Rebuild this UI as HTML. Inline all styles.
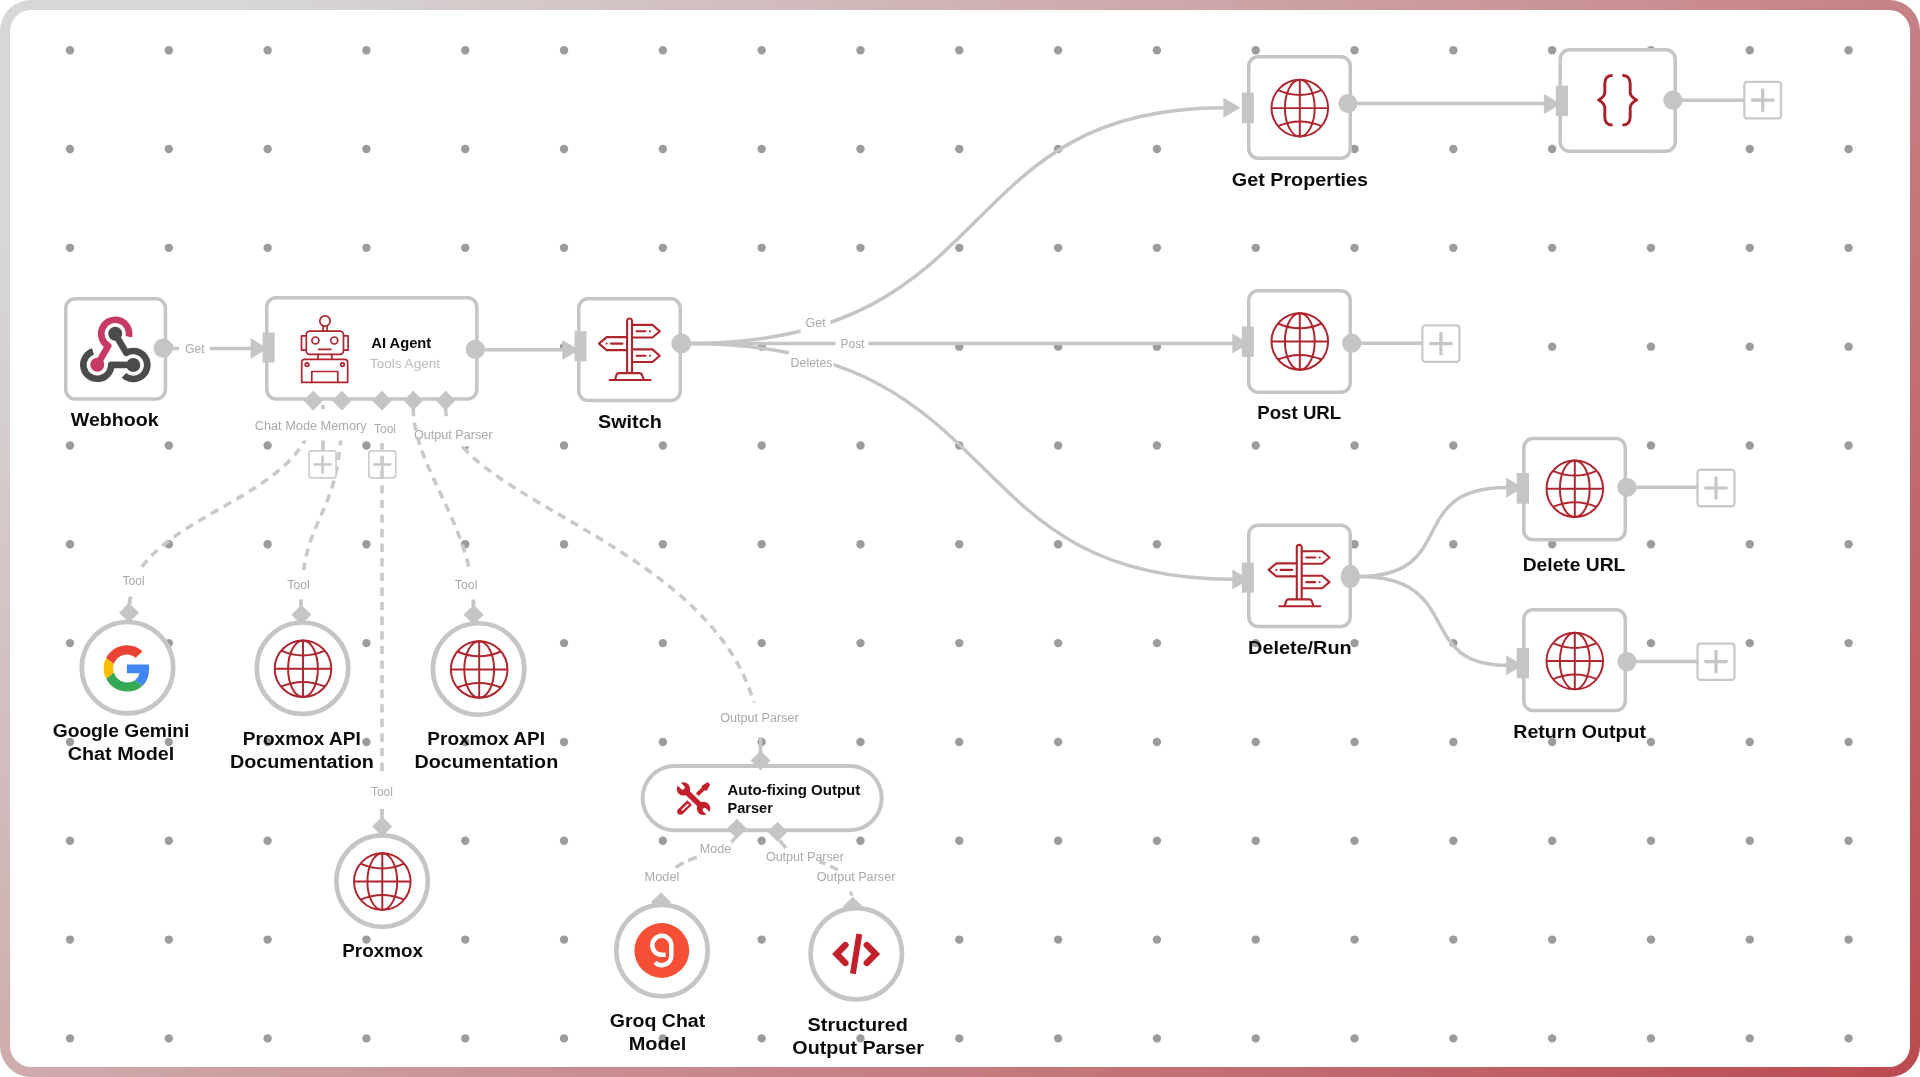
<!DOCTYPE html>
<html lang="en">
<head>
<meta charset="utf-8">
<title>Workflow</title>
<style>
html,body{margin:0;padding:0;background:#fff;}
body{width:1920px;height:1077px;overflow:hidden;position:relative;font-family:"Liberation Sans",sans-serif;}
.frame{position:absolute;left:0;top:0;width:1920px;height:1077px;box-sizing:border-box;padding:10px;border-radius:31px;
 background:linear-gradient(135deg,#d7d7d7 0%,#d7d7d7 8%,#bb4a50 100%);}
.canvas{width:100%;height:100%;border-radius:21px;background:#fff;}
</style>
</head>
<body>
<div class="frame"><div class="canvas"></div></div>
<svg width="1920" height="1077" viewBox="0 0 1920 1077" style="position:absolute;left:0;top:0;will-change:transform" font-family="'Liberation Sans', sans-serif">
<g fill="#9c9c9c">
<circle cx="70" cy="50.2" r="4.2"/>
<circle cx="168.81" cy="50.2" r="4.2"/>
<circle cx="267.62" cy="50.2" r="4.2"/>
<circle cx="366.43" cy="50.2" r="4.2"/>
<circle cx="465.24" cy="50.2" r="4.2"/>
<circle cx="564.05" cy="50.2" r="4.2"/>
<circle cx="662.86" cy="50.2" r="4.2"/>
<circle cx="761.67" cy="50.2" r="4.2"/>
<circle cx="860.48" cy="50.2" r="4.2"/>
<circle cx="959.29" cy="50.2" r="4.2"/>
<circle cx="1058.1" cy="50.2" r="4.2"/>
<circle cx="1156.91" cy="50.2" r="4.2"/>
<circle cx="1255.72" cy="50.2" r="4.2"/>
<circle cx="1354.53" cy="50.2" r="4.2"/>
<circle cx="1453.34" cy="50.2" r="4.2"/>
<circle cx="1552.15" cy="50.2" r="4.2"/>
<circle cx="1650.96" cy="50.2" r="4.2"/>
<circle cx="1749.77" cy="50.2" r="4.2"/>
<circle cx="1848.58" cy="50.2" r="4.2"/>
<circle cx="70" cy="149.02" r="4.2"/>
<circle cx="168.81" cy="149.02" r="4.2"/>
<circle cx="267.62" cy="149.02" r="4.2"/>
<circle cx="366.43" cy="149.02" r="4.2"/>
<circle cx="465.24" cy="149.02" r="4.2"/>
<circle cx="564.05" cy="149.02" r="4.2"/>
<circle cx="662.86" cy="149.02" r="4.2"/>
<circle cx="761.67" cy="149.02" r="4.2"/>
<circle cx="860.48" cy="149.02" r="4.2"/>
<circle cx="959.29" cy="149.02" r="4.2"/>
<circle cx="1058.1" cy="149.02" r="4.2"/>
<circle cx="1156.91" cy="149.02" r="4.2"/>
<circle cx="1255.72" cy="149.02" r="4.2"/>
<circle cx="1354.53" cy="149.02" r="4.2"/>
<circle cx="1453.34" cy="149.02" r="4.2"/>
<circle cx="1552.15" cy="149.02" r="4.2"/>
<circle cx="1650.96" cy="149.02" r="4.2"/>
<circle cx="1749.77" cy="149.02" r="4.2"/>
<circle cx="1848.58" cy="149.02" r="4.2"/>
<circle cx="70" cy="247.84" r="4.2"/>
<circle cx="168.81" cy="247.84" r="4.2"/>
<circle cx="267.62" cy="247.84" r="4.2"/>
<circle cx="366.43" cy="247.84" r="4.2"/>
<circle cx="465.24" cy="247.84" r="4.2"/>
<circle cx="564.05" cy="247.84" r="4.2"/>
<circle cx="662.86" cy="247.84" r="4.2"/>
<circle cx="761.67" cy="247.84" r="4.2"/>
<circle cx="860.48" cy="247.84" r="4.2"/>
<circle cx="959.29" cy="247.84" r="4.2"/>
<circle cx="1058.1" cy="247.84" r="4.2"/>
<circle cx="1156.91" cy="247.84" r="4.2"/>
<circle cx="1255.72" cy="247.84" r="4.2"/>
<circle cx="1354.53" cy="247.84" r="4.2"/>
<circle cx="1453.34" cy="247.84" r="4.2"/>
<circle cx="1552.15" cy="247.84" r="4.2"/>
<circle cx="1650.96" cy="247.84" r="4.2"/>
<circle cx="1749.77" cy="247.84" r="4.2"/>
<circle cx="1848.58" cy="247.84" r="4.2"/>
<circle cx="70" cy="346.66" r="4.2"/>
<circle cx="168.81" cy="346.66" r="4.2"/>
<circle cx="267.62" cy="346.66" r="4.2"/>
<circle cx="366.43" cy="346.66" r="4.2"/>
<circle cx="465.24" cy="346.66" r="4.2"/>
<circle cx="564.05" cy="346.66" r="4.2"/>
<circle cx="662.86" cy="346.66" r="4.2"/>
<circle cx="761.67" cy="346.66" r="4.2"/>
<circle cx="860.48" cy="346.66" r="4.2"/>
<circle cx="959.29" cy="346.66" r="4.2"/>
<circle cx="1058.1" cy="346.66" r="4.2"/>
<circle cx="1156.91" cy="346.66" r="4.2"/>
<circle cx="1255.72" cy="346.66" r="4.2"/>
<circle cx="1354.53" cy="346.66" r="4.2"/>
<circle cx="1453.34" cy="346.66" r="4.2"/>
<circle cx="1552.15" cy="346.66" r="4.2"/>
<circle cx="1650.96" cy="346.66" r="4.2"/>
<circle cx="1749.77" cy="346.66" r="4.2"/>
<circle cx="1848.58" cy="346.66" r="4.2"/>
<circle cx="70" cy="445.48" r="4.2"/>
<circle cx="168.81" cy="445.48" r="4.2"/>
<circle cx="267.62" cy="445.48" r="4.2"/>
<circle cx="366.43" cy="445.48" r="4.2"/>
<circle cx="465.24" cy="445.48" r="4.2"/>
<circle cx="564.05" cy="445.48" r="4.2"/>
<circle cx="662.86" cy="445.48" r="4.2"/>
<circle cx="761.67" cy="445.48" r="4.2"/>
<circle cx="860.48" cy="445.48" r="4.2"/>
<circle cx="959.29" cy="445.48" r="4.2"/>
<circle cx="1058.1" cy="445.48" r="4.2"/>
<circle cx="1156.91" cy="445.48" r="4.2"/>
<circle cx="1255.72" cy="445.48" r="4.2"/>
<circle cx="1354.53" cy="445.48" r="4.2"/>
<circle cx="1453.34" cy="445.48" r="4.2"/>
<circle cx="1552.15" cy="445.48" r="4.2"/>
<circle cx="1650.96" cy="445.48" r="4.2"/>
<circle cx="1749.77" cy="445.48" r="4.2"/>
<circle cx="1848.58" cy="445.48" r="4.2"/>
<circle cx="70" cy="544.3" r="4.2"/>
<circle cx="168.81" cy="544.3" r="4.2"/>
<circle cx="267.62" cy="544.3" r="4.2"/>
<circle cx="366.43" cy="544.3" r="4.2"/>
<circle cx="465.24" cy="544.3" r="4.2"/>
<circle cx="564.05" cy="544.3" r="4.2"/>
<circle cx="662.86" cy="544.3" r="4.2"/>
<circle cx="761.67" cy="544.3" r="4.2"/>
<circle cx="860.48" cy="544.3" r="4.2"/>
<circle cx="959.29" cy="544.3" r="4.2"/>
<circle cx="1058.1" cy="544.3" r="4.2"/>
<circle cx="1156.91" cy="544.3" r="4.2"/>
<circle cx="1255.72" cy="544.3" r="4.2"/>
<circle cx="1354.53" cy="544.3" r="4.2"/>
<circle cx="1453.34" cy="544.3" r="4.2"/>
<circle cx="1552.15" cy="544.3" r="4.2"/>
<circle cx="1650.96" cy="544.3" r="4.2"/>
<circle cx="1749.77" cy="544.3" r="4.2"/>
<circle cx="1848.58" cy="544.3" r="4.2"/>
<circle cx="70" cy="643.12" r="4.2"/>
<circle cx="168.81" cy="643.12" r="4.2"/>
<circle cx="267.62" cy="643.12" r="4.2"/>
<circle cx="366.43" cy="643.12" r="4.2"/>
<circle cx="465.24" cy="643.12" r="4.2"/>
<circle cx="564.05" cy="643.12" r="4.2"/>
<circle cx="662.86" cy="643.12" r="4.2"/>
<circle cx="761.67" cy="643.12" r="4.2"/>
<circle cx="860.48" cy="643.12" r="4.2"/>
<circle cx="959.29" cy="643.12" r="4.2"/>
<circle cx="1058.1" cy="643.12" r="4.2"/>
<circle cx="1156.91" cy="643.12" r="4.2"/>
<circle cx="1255.72" cy="643.12" r="4.2"/>
<circle cx="1354.53" cy="643.12" r="4.2"/>
<circle cx="1453.34" cy="643.12" r="4.2"/>
<circle cx="1552.15" cy="643.12" r="4.2"/>
<circle cx="1650.96" cy="643.12" r="4.2"/>
<circle cx="1749.77" cy="643.12" r="4.2"/>
<circle cx="1848.58" cy="643.12" r="4.2"/>
<circle cx="70" cy="741.94" r="4.2"/>
<circle cx="168.81" cy="741.94" r="4.2"/>
<circle cx="267.62" cy="741.94" r="4.2"/>
<circle cx="366.43" cy="741.94" r="4.2"/>
<circle cx="465.24" cy="741.94" r="4.2"/>
<circle cx="564.05" cy="741.94" r="4.2"/>
<circle cx="662.86" cy="741.94" r="4.2"/>
<circle cx="761.67" cy="741.94" r="4.2"/>
<circle cx="860.48" cy="741.94" r="4.2"/>
<circle cx="959.29" cy="741.94" r="4.2"/>
<circle cx="1058.1" cy="741.94" r="4.2"/>
<circle cx="1156.91" cy="741.94" r="4.2"/>
<circle cx="1255.72" cy="741.94" r="4.2"/>
<circle cx="1354.53" cy="741.94" r="4.2"/>
<circle cx="1453.34" cy="741.94" r="4.2"/>
<circle cx="1552.15" cy="741.94" r="4.2"/>
<circle cx="1650.96" cy="741.94" r="4.2"/>
<circle cx="1749.77" cy="741.94" r="4.2"/>
<circle cx="1848.58" cy="741.94" r="4.2"/>
<circle cx="70" cy="840.76" r="4.2"/>
<circle cx="168.81" cy="840.76" r="4.2"/>
<circle cx="267.62" cy="840.76" r="4.2"/>
<circle cx="366.43" cy="840.76" r="4.2"/>
<circle cx="465.24" cy="840.76" r="4.2"/>
<circle cx="564.05" cy="840.76" r="4.2"/>
<circle cx="662.86" cy="840.76" r="4.2"/>
<circle cx="761.67" cy="840.76" r="4.2"/>
<circle cx="860.48" cy="840.76" r="4.2"/>
<circle cx="959.29" cy="840.76" r="4.2"/>
<circle cx="1058.1" cy="840.76" r="4.2"/>
<circle cx="1156.91" cy="840.76" r="4.2"/>
<circle cx="1255.72" cy="840.76" r="4.2"/>
<circle cx="1354.53" cy="840.76" r="4.2"/>
<circle cx="1453.34" cy="840.76" r="4.2"/>
<circle cx="1552.15" cy="840.76" r="4.2"/>
<circle cx="1650.96" cy="840.76" r="4.2"/>
<circle cx="1749.77" cy="840.76" r="4.2"/>
<circle cx="1848.58" cy="840.76" r="4.2"/>
<circle cx="70" cy="939.58" r="4.2"/>
<circle cx="168.81" cy="939.58" r="4.2"/>
<circle cx="267.62" cy="939.58" r="4.2"/>
<circle cx="366.43" cy="939.58" r="4.2"/>
<circle cx="465.24" cy="939.58" r="4.2"/>
<circle cx="564.05" cy="939.58" r="4.2"/>
<circle cx="662.86" cy="939.58" r="4.2"/>
<circle cx="761.67" cy="939.58" r="4.2"/>
<circle cx="860.48" cy="939.58" r="4.2"/>
<circle cx="959.29" cy="939.58" r="4.2"/>
<circle cx="1058.1" cy="939.58" r="4.2"/>
<circle cx="1156.91" cy="939.58" r="4.2"/>
<circle cx="1255.72" cy="939.58" r="4.2"/>
<circle cx="1354.53" cy="939.58" r="4.2"/>
<circle cx="1453.34" cy="939.58" r="4.2"/>
<circle cx="1552.15" cy="939.58" r="4.2"/>
<circle cx="1650.96" cy="939.58" r="4.2"/>
<circle cx="1749.77" cy="939.58" r="4.2"/>
<circle cx="1848.58" cy="939.58" r="4.2"/>
<circle cx="70" cy="1038.4" r="4.2"/>
<circle cx="168.81" cy="1038.4" r="4.2"/>
<circle cx="267.62" cy="1038.4" r="4.2"/>
<circle cx="366.43" cy="1038.4" r="4.2"/>
<circle cx="465.24" cy="1038.4" r="4.2"/>
<circle cx="564.05" cy="1038.4" r="4.2"/>
<circle cx="662.86" cy="1038.4" r="4.2"/>
<circle cx="761.67" cy="1038.4" r="4.2"/>
<circle cx="860.48" cy="1038.4" r="4.2"/>
<circle cx="959.29" cy="1038.4" r="4.2"/>
<circle cx="1058.1" cy="1038.4" r="4.2"/>
<circle cx="1156.91" cy="1038.4" r="4.2"/>
<circle cx="1255.72" cy="1038.4" r="4.2"/>
<circle cx="1354.53" cy="1038.4" r="4.2"/>
<circle cx="1453.34" cy="1038.4" r="4.2"/>
<circle cx="1552.15" cy="1038.4" r="4.2"/>
<circle cx="1650.96" cy="1038.4" r="4.2"/>
<circle cx="1749.77" cy="1038.4" r="4.2"/>
<circle cx="1848.58" cy="1038.4" r="4.2"/>
</g>
<path d="M313.2 408 C313.2 501 129.5 516 129.5 604" stroke="#c9c9c9" stroke-width="3.6" fill="none" stroke-dasharray="8.3 6.3"/>
<path d="M341.9 408 C341.9 524 301.3 509 301.3 606" stroke="#c9c9c9" stroke-width="3.6" fill="none" stroke-dasharray="8.3 6.3"/>
<path d="M445.6 408 C445.6 506 760.5 549 760.5 752" stroke="#c9c9c9" stroke-width="3.6" fill="none" stroke-dasharray="8.3 6.3"/>
<path d="M323 405 L323 450.5" stroke="#c5c5c5" stroke-width="3.5" fill="none" stroke-linecap="butt"/>
<path d="M172 348.4 L251 348.4" stroke="#c5c5c5" stroke-width="3.5" fill="none" stroke-linecap="butt"/>
<path d="M250.6 338.1 L267.6 348.4 L250.6 358.7 Z" fill="#c5c5c5"/>
<path d="M484 349.7 L563 349.7" stroke="#c5c5c5" stroke-width="3.5" fill="none" stroke-linecap="butt"/>
<path d="M562.3 339.9 L579.3 349.9 L562.3 359.9 Z" fill="#c5c5c5"/>
<path d="M688 343.5 C1008 343.5 945 107.8 1224 107.8" stroke="#c5c5c5" stroke-width="3.5" fill="none"/>
<path d="M1223.4 97.7 L1240.4 107.7 L1223.4 117.7 Z" fill="#c5c5c5"/>
<path d="M688 343.5 L1233 343.5" stroke="#c5c5c5" stroke-width="3.5" fill="none" stroke-linecap="butt"/>
<path d="M1232.3 333.5 L1249.3 343.5 L1232.3 353.5 Z" fill="#c5c5c5"/>
<path d="M688 343.5 C1016 343.5 948 579.3 1233 579.3" stroke="#c5c5c5" stroke-width="3.5" fill="none"/>
<path d="M1232.3 569.4 L1249.3 579.4 L1232.3 589.4 Z" fill="#c5c5c5"/>
<path d="M1356 103.6 L1545 103.6" stroke="#c5c5c5" stroke-width="3.5" fill="none" stroke-linecap="butt"/>
<path d="M1543.9 93.9 L1560.9 103.9 L1543.9 113.9 Z" fill="#c5c5c5"/>
<path d="M1680 100.2 L1745 100.2" stroke="#c5c5c5" stroke-width="3.5" fill="none" stroke-linecap="butt"/>
<path d="M1360 343.2 L1423 343.2" stroke="#c5c5c5" stroke-width="3.5" fill="none" stroke-linecap="butt"/>
<path d="M1358 576.6 C1461 576.6 1403 487.6 1507 487.6" stroke="#c5c5c5" stroke-width="3.5" fill="none"/>
<path d="M1506.2 477.8 L1523.2 487.8 L1506.2 497.8 Z" fill="#c5c5c5"/>
<path d="M1358 576.6 C1466 576.6 1413 665.3 1507 665.3" stroke="#c5c5c5" stroke-width="3.5" fill="none"/>
<path d="M1506.2 655.2 L1523.2 665.2 L1506.2 675.2 Z" fill="#c5c5c5"/>
<path d="M1635 487.3 L1698 487.3" stroke="#c5c5c5" stroke-width="3.5" fill="none" stroke-linecap="butt"/>
<path d="M1635 661.6 L1698 661.6" stroke="#c5c5c5" stroke-width="3.5" fill="none" stroke-linecap="butt"/>
<path d="M735.6 837.3 L730.4 843.4" stroke="#c9c9c9" stroke-width="3.6" fill="none" stroke-linecap="butt"/>
<path d="M696.8 857.2 L688.1 860.5" stroke="#c9c9c9" stroke-width="3.6" fill="none" stroke-linecap="butt"/>
<path d="M683.5 862.6 L675.5 867.6" stroke="#c9c9c9" stroke-width="3.6" fill="none" stroke-linecap="butt"/>
<path d="M779.4 840.3 L786.1 848.1" stroke="#c9c9c9" stroke-width="3.6" fill="none" stroke-linecap="butt"/>
<path d="M830.2 866 L838.1 870.1" stroke="#c9c9c9" stroke-width="3.6" fill="none" stroke-linecap="butt"/>
<path d="M849.8 891.8 L852.5 895.6" stroke="#c9c9c9" stroke-width="3.2" fill="none" stroke-linecap="butt"/>
<rect x="179" y="340" width="31" height="18" fill="#fff"/>
<text x="185" y="353.4" font-size="12.5" fill="#a9a9a9" textLength="19.7" lengthAdjust="spacingAndGlyphs">Get</text>
<rect x="252" y="409" width="117" height="31.5" fill="#fff"/>
<text x="254.7" y="430.3" font-size="12.5" fill="#a9a9a9" textLength="112" lengthAdjust="spacingAndGlyphs">Chat Mode Memory</text>
<rect x="430" y="421" width="64" height="25.5" fill="#fff"/>
<text x="414" y="438.7" font-size="12.5" fill="#a9a9a9" textLength="78.5" lengthAdjust="spacingAndGlyphs">Output Parser</text>
<rect x="800.5" y="314" width="30" height="20" fill="#fff"/>
<text x="805.6" y="327.25" font-size="12.5" fill="#a9a9a9" textLength="20" lengthAdjust="spacingAndGlyphs">Get</text>
<rect x="835.5" y="335" width="33" height="18" fill="#fff"/>
<text x="840.6" y="347.9" font-size="12.5" fill="#a9a9a9" textLength="23.8" lengthAdjust="spacingAndGlyphs">Post</text>
<rect x="789" y="351" width="44.5" height="21" fill="#fff"/>
<text x="790.6" y="366.5" font-size="12.5" fill="#a9a9a9" textLength="41.9" lengthAdjust="spacingAndGlyphs">Deletes</text>
<rect x="309.05" y="450.85" width="27.1" height="27.1" rx="2.6" fill="#fff" stroke="#cdcdcd" stroke-width="1.7"/>
<path d="M313.6 464.4 H331.6 M322.6 455.4 V473.4" stroke="#c6c6c6" stroke-width="2.5" stroke-linecap="butt" fill="none"/>
<path d="M413.3 408 C413.3 468 473.6 527 473.6 606" stroke="#c9c9c9" stroke-width="3.6" fill="none" stroke-dasharray="8.3 6.3"/>
<rect x="368.85" y="450.85" width="26.9" height="27.1" rx="2.6" fill="#fff" stroke="#cdcdcd" stroke-width="1.7"/>
<path d="M373.3 464.4 H391.3 M382.3 455.4 V473.4" stroke="#c6c6c6" stroke-width="2.5" stroke-linecap="butt" fill="none"/>
<path d="M382 408 L382 818" stroke="#c9c9c9" stroke-width="3.6" fill="none" stroke-linecap="butt" stroke-dasharray="8.3 6.3" stroke-dashoffset="-4.2"/>
<rect x="371.5" y="412" width="27" height="31" fill="#fff"/>
<text x="374" y="432.5" font-size="12.5" fill="#a9a9a9" textLength="22" lengthAdjust="spacingAndGlyphs">Tool</text>
<rect x="119" y="569.5" width="30" height="27" fill="#fff"/>
<text x="122.5" y="585.3" font-size="12.5" fill="#a9a9a9" textLength="22.2" lengthAdjust="spacingAndGlyphs">Tool</text>
<path d="M130.6 596.5 L129.3 604" stroke="#c5c5c5" stroke-width="3.5" fill="none" stroke-linecap="butt"/>
<rect x="284" y="570" width="29" height="29.5" fill="#fff"/>
<text x="287.3" y="589.2" font-size="12.5" fill="#a9a9a9" textLength="22.4" lengthAdjust="spacingAndGlyphs">Tool</text>
<path d="M300.9 599.5 L300.9 606" stroke="#c5c5c5" stroke-width="3.5" fill="none" stroke-linecap="butt"/>
<rect x="451.5" y="570" width="29.5" height="29.5" fill="#fff"/>
<text x="454.8" y="589.2" font-size="12.5" fill="#a9a9a9" textLength="22.6" lengthAdjust="spacingAndGlyphs">Tool</text>
<path d="M473.2 599.5 L473.4 606" stroke="#c5c5c5" stroke-width="3.5" fill="none" stroke-linecap="butt"/>
<rect x="367.5" y="773" width="29" height="36" fill="#fff"/>
<text x="370.9" y="796.1" font-size="12.5" fill="#a9a9a9" textLength="22" lengthAdjust="spacingAndGlyphs">Tool</text>
<path d="M382 809 L382 818" stroke="#c5c5c5" stroke-width="3.5" fill="none" stroke-linecap="butt"/>
<rect x="717" y="702.5" width="85" height="34.5" fill="#fff"/>
<text x="720.2" y="722.4" font-size="12.5" fill="#a9a9a9" textLength="78.5" lengthAdjust="spacingAndGlyphs">Output Parser</text>
<path d="M760.6 737.5 L760.6 752" stroke="#c5c5c5" stroke-width="3.2" fill="none" stroke-linecap="butt"/>
<rect x="697" y="841.5" width="34.5" height="15" fill="#fff"/>
<text x="699.8" y="853" font-size="12.5" fill="#a9a9a9" textLength="31.3" lengthAdjust="spacingAndGlyphs">Mode</text>
<rect x="641" y="868.5" width="42" height="20" fill="#fff"/>
<text x="644.6" y="881.4" font-size="12.5" fill="#a9a9a9" textLength="34.7" lengthAdjust="spacingAndGlyphs">Model</text>
<rect x="763" y="849" width="54" height="18" fill="#fff"/>
<text x="765.9" y="861.4" font-size="12.5" fill="#a9a9a9" textLength="78.1" lengthAdjust="spacingAndGlyphs">Output Parser</text>
<rect x="814" y="871" width="85" height="17.5" fill="#fff"/>
<text x="816.8" y="881.4" font-size="12.5" fill="#a9a9a9" textLength="78.6" lengthAdjust="spacingAndGlyphs">Output Parser</text>
<path d="M819.3 861.8 L825.6 863.9" stroke="#c9c9c9" stroke-width="3.6" fill="none" stroke-linecap="butt"/>
<path d="M129 602.8 L139 612.8 L129 622.8 L119 612.8 Z" fill="#c5c5c5"/>
<path d="M301.3 604.7 L311.3 614.7 L301.3 624.7 L291.3 614.7 Z" fill="#c5c5c5"/>
<path d="M473.6 604.7 L483.6 614.7 L473.6 624.7 L463.6 614.7 Z" fill="#c5c5c5"/>
<path d="M382.1 816.4 L392.1 826.4 L382.1 836.4 L372.1 826.4 Z" fill="#c5c5c5"/>
<path d="M661 892.2 L671 902.2 L661 912.2 L651 902.2 Z" fill="#c5c5c5"/>
<path d="M852.8 896.8 L862.8 906.8 L852.8 916.8 L842.8 906.8 Z" fill="#c5c5c5"/>
<rect x="65.75" y="298.75" width="99.7" height="100.2" rx="9.45" ry="9.45" fill="#fff" stroke="#c5c5c5" stroke-width="3.5"/>
<rect x="266.75" y="297.75" width="210.1" height="101.2" rx="9.45" ry="9.45" fill="#fff" stroke="#c5c5c5" stroke-width="3.5"/>
<rect x="578.75" y="298.75" width="101.5" height="101.7" rx="9.45" ry="9.45" fill="#fff" stroke="#c5c5c5" stroke-width="3.5"/>
<rect x="1248.75" y="56.75" width="101.5" height="101.5" rx="9.45" ry="9.45" fill="#fff" stroke="#c5c5c5" stroke-width="3.5"/>
<rect x="1560.15" y="49.75" width="115.1" height="101.5" rx="9.45" ry="9.45" fill="#fff" stroke="#c5c5c5" stroke-width="3.5"/>
<rect x="1248.75" y="290.75" width="101.5" height="101.5" rx="9.45" ry="9.45" fill="#fff" stroke="#c5c5c5" stroke-width="3.5"/>
<rect x="1248.75" y="525.15" width="101.5" height="101.4" rx="9.45" ry="9.45" fill="#fff" stroke="#c5c5c5" stroke-width="3.5"/>
<rect x="1523.75" y="438.45" width="101.5" height="101.4" rx="9.45" ry="9.45" fill="#fff" stroke="#c5c5c5" stroke-width="3.5"/>
<rect x="1523.75" y="609.75" width="101.5" height="100.7" rx="9.45" ry="9.45" fill="#fff" stroke="#c5c5c5" stroke-width="3.5"/>
<rect x="642.6" y="766" width="239.1" height="64.2" rx="32.1" fill="#fff" stroke="#c5c5c5" stroke-width="4"/>
<circle cx="127.5" cy="667.7" r="45.7" fill="#fff" stroke="#c5c5c5" stroke-width="4.6"/>
<circle cx="302.5" cy="668.2" r="45.7" fill="#fff" stroke="#c5c5c5" stroke-width="4.6"/>
<circle cx="478.6" cy="669" r="45.7" fill="#fff" stroke="#c5c5c5" stroke-width="4.6"/>
<circle cx="382.1" cy="881.1" r="45.7" fill="#fff" stroke="#c5c5c5" stroke-width="4.6"/>
<circle cx="662" cy="950.6" r="45.7" fill="#fff" stroke="#c5c5c5" stroke-width="4.6"/>
<circle cx="856.3" cy="953.8" r="45.7" fill="#fff" stroke="#c5c5c5" stroke-width="4.6"/>
<rect x="262.6" y="332.5" width="12" height="30" fill="#c5c5c5"/>
<rect x="574.5" y="331.2" width="12" height="30.2" fill="#c5c5c5"/>
<rect x="1241.8" y="92.7" width="12" height="30.5" fill="#c5c5c5"/>
<rect x="1555.9" y="85.7" width="12.1" height="30.4" fill="#c5c5c5"/>
<rect x="1241.8" y="326.5" width="12" height="30.4" fill="#c5c5c5"/>
<rect x="1241.8" y="562.7" width="12" height="30" fill="#c5c5c5"/>
<rect x="1516.7" y="473" width="12.3" height="30.7" fill="#c5c5c5"/>
<rect x="1516.7" y="648" width="12.3" height="30.2" fill="#c5c5c5"/>
<circle cx="163.1" cy="348.1" r="9.6" fill="#c5c5c5"/>
<circle cx="475.3" cy="349.4" r="9.6" fill="#c5c5c5"/>
<circle cx="681.3" cy="343.5" r="10" fill="#c5c5c5"/>
<circle cx="1347.9" cy="103.5" r="9.6" fill="#c5c5c5"/>
<circle cx="1672.9" cy="100.2" r="9.6" fill="#c5c5c5"/>
<circle cx="1351.7" cy="343.2" r="9.6" fill="#c5c5c5"/>
<circle cx="1626.9" cy="487.3" r="9.6" fill="#c5c5c5"/>
<circle cx="1626.9" cy="661.6" r="9.6" fill="#c5c5c5"/>
<ellipse cx="1350.3" cy="576.5" rx="9.6" ry="11.7" fill="#c5c5c5"/>
<path d="M313.2 390.8 L323 400.6 L313.2 410.4 L303.4 400.6 Z" fill="#c5c5c5"/>
<path d="M341.9 390.8 L351.7 400.6 L341.9 410.4 L332.1 400.6 Z" fill="#c5c5c5"/>
<path d="M382 390.8 L391.8 400.6 L382 410.4 L372.2 400.6 Z" fill="#c5c5c5"/>
<path d="M413.3 390.8 L423.1 400.6 L413.3 410.4 L403.5 400.6 Z" fill="#c5c5c5"/>
<path d="M445.6 390.8 L455.4 400.6 L445.6 410.4 L435.8 400.6 Z" fill="#c5c5c5"/>
<path d="M760.5 750.6 L770.5 760.6 L760.5 770.6 L750.5 760.6 Z" fill="#c5c5c5"/>
<path d="M736.9 818.8 L746.9 828.8 L736.9 838.8 L726.9 828.8 Z" fill="#c5c5c5"/>
<path d="M777.6 821.7 L787.6 831.7 L777.6 841.7 L767.6 831.7 Z" fill="#c5c5c5"/>
<rect x="1744.35" y="81.85" width="36.7" height="36.6" rx="3" fill="#fff" stroke="#c9c9c9" stroke-width="2.3"/>
<path d="M1751.1 100.15 H1774.3 M1762.7 88.55 V111.75" stroke="#c6c6c6" stroke-width="3.2" stroke-linecap="butt" fill="none"/>
<rect x="1422.35" y="325.35" width="37.1" height="36.5" rx="3" fill="#fff" stroke="#c9c9c9" stroke-width="2.3"/>
<path d="M1429.3 343.6 H1452.5 M1440.9 332 V355.2" stroke="#c6c6c6" stroke-width="3.2" stroke-linecap="butt" fill="none"/>
<rect x="1697.55" y="469.75" width="36.9" height="36.5" rx="3" fill="#fff" stroke="#c9c9c9" stroke-width="2.3"/>
<path d="M1704.4 488 H1727.6 M1716 476.4 V499.6" stroke="#c6c6c6" stroke-width="3.2" stroke-linecap="butt" fill="none"/>
<rect x="1697.55" y="643.55" width="36.9" height="36.3" rx="3" fill="#fff" stroke="#c9c9c9" stroke-width="2.3"/>
<path d="M1704.4 661.7 H1727.6 M1716 650.1 V673.3" stroke="#c6c6c6" stroke-width="3.2" stroke-linecap="butt" fill="none"/>
<g fill="none" stroke-width="6.6" stroke-linejoin="round">
<path d="M97.3 364.8 L108.2 345.92 A14.0 14.0 0 1 1 128.89 336.71" stroke="#c73a63"/>
<path d="M115.2 333.8 L126.3 352.88 A14.0 14.0 0 1 1 123.93 375.4" stroke="#4b4b4b"/>
<path d="M133.3 365 L111.3 364.8 A14.0 14.0 0 1 1 92.97 351.49" stroke="#4b4b4b"/>
</g>
<circle cx="97.3" cy="364.8" r="7.0" fill="#c73a63"/>
<circle cx="115.2" cy="333.8" r="7.0" fill="#4b4b4b"/>
<circle cx="133.3" cy="365" r="7.0" fill="#4b4b4b"/>
<g fill="none" stroke="#b0242e" stroke-width="1.7" stroke-linejoin="round" stroke-linecap="round">
<circle cx="325" cy="321" r="5.2"/>
<path d="M323 326.1 V331 M327.1 326.1 V331"/>
<rect x="306.3" y="331.1" width="37.2" height="23.2" rx="3.5"/>
<path d="M306.3 335.8 H301.5 V350.2 H306.3 M343.5 335.8 H348.1 V350.2 H343.5"/>
<circle cx="315.4" cy="340.5" r="3.5"/><circle cx="334.3" cy="340.5" r="3.5"/>
<path d="M318.6 349.3 H330.9"/>
<path d="M318 354.3 V359.3 M331.8 354.3 V359.3"/>
<path d="M301.7 382.3 V362.3 Q301.7 359.3 304.7 359.3 H344.7 Q347.7 359.3 347.7 362.3 V382.3 Z"/>
<circle cx="307" cy="364.6" r="1.8"/><circle cx="342.5" cy="364.6" r="1.8"/>
<path d="M311.8 382.3 V371.5 H337.8 V382.3"/>
</g>
<g fill="none" stroke="#b0242e" stroke-width="2.1" stroke-linejoin="round" stroke-linecap="round" transform="translate(590 310)">
<path d="M37.1 62.4 V11 A2.45 2.45 0 0 1 42 11 V62.4"/>
<path d="M42.7 14.9 H62.4 L69.8 21.2 L62.4 27.5 H42.7"/>
<path d="M36.4 27.1 H16.7 L8.9 33.6 L16.7 40.1 H36.4"/>
<path d="M42.7 39.4 H62.4 L69.8 45.8 L62.4 52 H42.7"/>
<path d="M46.6 21.2 H55.5 M60 21.2 h0.01 M20.9 33.6 H32.5 M16.6 33.6 h0.01 M46.6 45.8 H55.5 M60 45.8 h0.01"/>
<path d="M24.9 69.8 L26.6 64.6 Q27.1 63.1 28.8 63.1 H49.7 Q51.3 63.1 51.9 64.6 L53.9 69.8"/>
<path d="M19.6 70 H60.6"/>
</g>
<g fill="none" stroke="#b0242e" stroke-width="2.1" stroke-linejoin="round" stroke-linecap="round" transform="translate(1259.7 536.3)">
<path d="M37.1 62.4 V11 A2.45 2.45 0 0 1 42 11 V62.4"/>
<path d="M42.7 14.9 H62.4 L69.8 21.2 L62.4 27.5 H42.7"/>
<path d="M36.4 27.1 H16.7 L8.9 33.6 L16.7 40.1 H36.4"/>
<path d="M42.7 39.4 H62.4 L69.8 45.8 L62.4 52 H42.7"/>
<path d="M46.6 21.2 H55.5 M60 21.2 h0.01 M20.9 33.6 H32.5 M16.6 33.6 h0.01 M46.6 45.8 H55.5 M60 45.8 h0.01"/>
<path d="M24.9 69.8 L26.6 64.6 Q27.1 63.1 28.8 63.1 H49.7 Q51.3 63.1 51.9 64.6 L53.9 69.8"/>
<path d="M19.6 70 H60.6"/>
</g>
<g fill="none" stroke="#b0242e" stroke-width="1.95" transform="translate(1299.8 108.1)">
<circle r="28.3"/>
<ellipse rx="14.9" ry="28.3"/>
<path d="M0 -28.3 V28.3 M-28.3 0 H28.3"/>
<path d="M-21.8 -18 Q0 -8.4 21.8 -18"/>
<path d="M-21.8 18 Q0 8.8 21.8 18"/>
</g>
<g fill="none" stroke="#b0242e" stroke-width="1.95" transform="translate(1299.8 341.5)">
<circle r="28.3"/>
<ellipse rx="14.9" ry="28.3"/>
<path d="M0 -28.3 V28.3 M-28.3 0 H28.3"/>
<path d="M-21.8 -18 Q0 -8.4 21.8 -18"/>
<path d="M-21.8 18 Q0 8.8 21.8 18"/>
</g>
<g fill="none" stroke="#b0242e" stroke-width="1.95" transform="translate(1574.8 488.8)">
<circle r="28.3"/>
<ellipse rx="14.9" ry="28.3"/>
<path d="M0 -28.3 V28.3 M-28.3 0 H28.3"/>
<path d="M-21.8 -18 Q0 -8.4 21.8 -18"/>
<path d="M-21.8 18 Q0 8.8 21.8 18"/>
</g>
<g fill="none" stroke="#b0242e" stroke-width="1.95" transform="translate(1574.8 661.1)">
<circle r="28.3"/>
<ellipse rx="14.9" ry="28.3"/>
<path d="M0 -28.3 V28.3 M-28.3 0 H28.3"/>
<path d="M-21.8 -18 Q0 -8.4 21.8 -18"/>
<path d="M-21.8 18 Q0 8.8 21.8 18"/>
</g>
<g fill="none" stroke="#b0242e" stroke-width="1.95" transform="translate(303 668.7)">
<circle r="28.3"/>
<ellipse rx="14.9" ry="28.3"/>
<path d="M0 -28.3 V28.3 M-28.3 0 H28.3"/>
<path d="M-21.8 -18 Q0 -8.4 21.8 -18"/>
<path d="M-21.8 18 Q0 8.8 21.8 18"/>
</g>
<g fill="none" stroke="#b0242e" stroke-width="1.95" transform="translate(479.2 669.5)">
<circle r="28.3"/>
<ellipse rx="14.9" ry="28.3"/>
<path d="M0 -28.3 V28.3 M-28.3 0 H28.3"/>
<path d="M-21.8 -18 Q0 -8.4 21.8 -18"/>
<path d="M-21.8 18 Q0 8.8 21.8 18"/>
</g>
<g fill="none" stroke="#b0242e" stroke-width="1.95" transform="translate(382.3 881.6)">
<circle r="28.3"/>
<ellipse rx="14.9" ry="28.3"/>
<path d="M0 -28.3 V28.3 M-28.3 0 H28.3"/>
<path d="M-21.8 -18 Q0 -8.4 21.8 -18"/>
<path d="M-21.8 18 Q0 8.8 21.8 18"/>
</g>
<g transform="translate(1585 65)" fill="none" stroke="#a81f2a" stroke-width="2.9" stroke-linejoin="round">
<path d="M27.6 10.4 Q19.8 10.4 19.8 18.5 V27.5 Q19.8 31.5 13.6 35.1 Q19.8 38.7 19.8 42.7 V52 Q19.8 60.1 27.6 60.1"/>
<path d="M37.3 10.4 Q45.2 10.4 45.2 18.5 V27.5 Q45.2 31.5 51.6 35.1 Q45.2 38.7 45.2 42.7 V52 Q45.2 60.1 37.3 60.1"/>
</g>
<g transform="translate(103.7 645.2) scale(0.967)">
<path fill="#EA4335" d="M24 9.5c3.54 0 6.71 1.22 9.21 3.6l6.85-6.85C35.9 2.38 30.47 0 24 0 14.62 0 6.51 5.38 2.56 13.22l7.98 6.19C12.43 13.72 17.74 9.5 24 9.5z"/>
<path fill="#4285F4" d="M46.98 24.55c0-1.57-.15-3.09-.38-4.55H24v9.02h12.94c-.58 2.96-2.26 5.48-4.78 7.18l7.73 6c4.51-4.18 7.09-10.36 7.09-17.65z"/>
<path fill="#FBBC05" d="M10.53 28.59c-.48-1.45-.76-2.99-.76-4.59s.27-3.14.76-4.59l-7.98-6.19C.92 16.46 0 20.12 0 24c0 3.88.92 7.54 2.56 10.78l7.97-6.19z"/>
<path fill="#34A853" d="M24 48c6.48 0 11.93-2.13 15.89-5.81l-7.73-6c-2.15 1.45-4.92 2.3-8.16 2.3-6.26 0-11.57-4.22-13.47-9.91l-7.98 6.19C6.51 42.62 14.62 48 24 48z"/>
</g>
<g transform="translate(661.8 950.5)">
<circle r="27.4" fill="#f55036"/>
<path d="M3.8 4.3 H0.1 A9.5 9.5 0 1 1 9.5 -5.2 V5.2 A9.5 9.5 0 0 1 -6.7 11.9" fill="none" stroke="#fff" stroke-width="4.5"/>
</g>
<g transform="translate(856.2 954)" fill="none" stroke="#c4202b" stroke-linejoin="miter">
<path d="M3.1 -20 L-3.3 19.7" stroke-width="5.9" stroke-linecap="butt"/>
<path d="M-10.8 -8.9 L-19.6 0 L-10.8 8.9" stroke-width="6.4" stroke-linecap="round"/>
<path d="M10.6 -8.9 L19.4 0 L10.6 8.9" stroke-width="6.4" stroke-linecap="round"/>
</g>
<g transform="translate(664 770)">
<path d="M16.4 41.6 L25.7 32.6" stroke="#c4202b" stroke-width="6.4" stroke-linecap="butt" fill="none"/>
<circle cx="16.4" cy="41.6" r="3.2" fill="#c4202b"/>
<path d="M18.2 40 L23.9 34.6" stroke="#fff" stroke-width="1.7" stroke-linecap="round" fill="none"/>
<path d="M33.3 24.6 L40.2 17.8" stroke="#c4202b" stroke-width="3.9" fill="none"/>
<path d="M37.3 16.3 L43.6 12.1 L46.1 14.7 L42.5 21 L40.6 20.2 Z" fill="#c4202b"/>
<path d="M19.5 18.9 L39.6 38.4" stroke="#c4202b" stroke-width="5.6" fill="none"/>
<circle cx="19.5" cy="18.9" r="6.7" fill="#c4202b"/><circle cx="39.6" cy="38.4" r="6.7" fill="#c4202b"/>
<path d="M18.6 17.4 L11.5 10.3" stroke="#fff" stroke-width="4.2" stroke-linecap="round" fill="none"/>
<path d="M40.6 39.9 L47.5 47" stroke="#fff" stroke-width="4.2" stroke-linecap="round" fill="none"/>
</g>
<text x="370" y="367.75" font-size="13.2" fill="#bababa" textLength="70" lengthAdjust="spacingAndGlyphs">Tools Agent</text>
<text x="371.25" y="347.6" font-size="14.4" font-weight="bold" fill="#0b0b0b" textLength="60" lengthAdjust="spacingAndGlyphs">AI Agent</text>
<text x="727.5" y="794.5" font-size="14.6" font-weight="bold" fill="#0b0b0b" textLength="132.8" lengthAdjust="spacingAndGlyphs">Auto-fixing Output</text>
<text x="727.5" y="812.8" font-size="14.6" font-weight="bold" fill="#0b0b0b" textLength="45.3" lengthAdjust="spacingAndGlyphs">Parser</text>
<text x="70.8" y="426.2" font-size="19.1" font-weight="bold" fill="#0b0b0b" textLength="87.9" lengthAdjust="spacingAndGlyphs">Webhook</text>
<text x="598.1" y="427.7" font-size="19.1" font-weight="bold" fill="#0b0b0b" textLength="63.6" lengthAdjust="spacingAndGlyphs">Switch</text>
<text x="1231.8" y="186.3" font-size="19.1" font-weight="bold" fill="#0b0b0b" textLength="136.2" lengthAdjust="spacingAndGlyphs">Get Properties</text>
<text x="1257.3" y="419.1" font-size="19.1" font-weight="bold" fill="#0b0b0b" textLength="83.9" lengthAdjust="spacingAndGlyphs">Post URL</text>
<text x="1248.1" y="654.1" font-size="19.1" font-weight="bold" fill="#0b0b0b" textLength="103.5" lengthAdjust="spacingAndGlyphs">Delete/Run</text>
<text x="1522.7" y="571.4" font-size="19.1" font-weight="bold" fill="#0b0b0b" textLength="102.7" lengthAdjust="spacingAndGlyphs">Delete URL</text>
<text x="1513.3" y="737.8" font-size="19.1" font-weight="bold" fill="#0b0b0b" textLength="132.6" lengthAdjust="spacingAndGlyphs">Return Output</text>
<text x="342.3" y="956.8" font-size="19.1" font-weight="bold" fill="#0b0b0b" textLength="80.7" lengthAdjust="spacingAndGlyphs">Proxmox</text>
<text x="242.8" y="744.8" font-size="19.1" font-weight="bold" fill="#0b0b0b" textLength="118" lengthAdjust="spacingAndGlyphs">Proxmox API</text>
<text x="229.9" y="767.6" font-size="19.1" font-weight="bold" fill="#0b0b0b" textLength="143.9" lengthAdjust="spacingAndGlyphs">Documentation</text>
<text x="427.3" y="744.8" font-size="19.1" font-weight="bold" fill="#0b0b0b" textLength="117.8" lengthAdjust="spacingAndGlyphs">Proxmox API</text>
<text x="414.5" y="767.6" font-size="19.1" font-weight="bold" fill="#0b0b0b" textLength="143.7" lengthAdjust="spacingAndGlyphs">Documentation</text>
<text x="52.7" y="737.1" font-size="19.1" font-weight="bold" fill="#0b0b0b" textLength="136.7" lengthAdjust="spacingAndGlyphs">Google Gemini</text>
<text x="67.7" y="760.3" font-size="19.1" font-weight="bold" fill="#0b0b0b" textLength="106.6" lengthAdjust="spacingAndGlyphs">Chat Model</text>
<text x="609.8" y="1027" font-size="19.1" font-weight="bold" fill="#0b0b0b" textLength="95.4" lengthAdjust="spacingAndGlyphs">Groq Chat</text>
<text x="628.7" y="1049.6" font-size="19.1" font-weight="bold" fill="#0b0b0b" textLength="57.6" lengthAdjust="spacingAndGlyphs">Model</text>
<text x="807.6" y="1030.8" font-size="19.1" font-weight="bold" fill="#0b0b0b" textLength="100.4" lengthAdjust="spacingAndGlyphs">Structured</text>
<text x="792.3" y="1053.6" font-size="19.1" font-weight="bold" fill="#0b0b0b" textLength="131.6" lengthAdjust="spacingAndGlyphs">Output Parser</text>
</svg>
</body>
</html>
